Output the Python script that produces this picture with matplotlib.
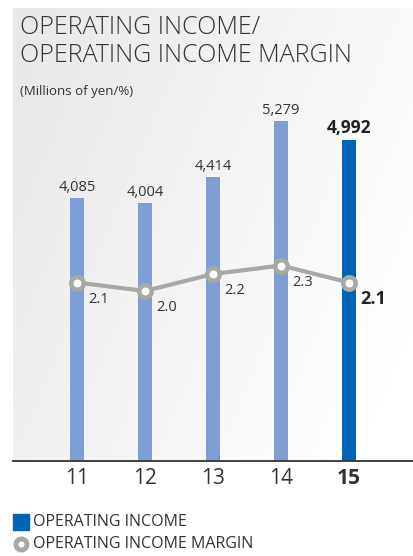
import matplotlib as mpl
mpl.use('Agg')
import matplotlib.pyplot as plt
import numpy as np

YEARS = ["11", "12", "13", "14", "15"]
INCOME = [4085, 4004, 4414, 5279, 4992]
MARGIN = [2.1, 2.0, 2.2, 2.3, 2.1]
INCOME_LABELS = ["4,085", "4,004", "4,414", "5,279", "4,992"]
MARGIN_LABELS = ["2.1", "2.0", "2.2", "2.3", "2.1"]

LIGHT_BLUE = '#7f9ed3'
DARK_BLUE = '#0064b4'
LINE_GRAY = '#a9a9a4'
TEXT = '#333333'

FONT = ['Open Sans', 'DejaVu Sans']
plt.rcParams['font.family'] = FONT

W, H = 414, 556
fig = plt.figure(figsize=(W / 100, H / 100), dpi=100)

def fbox(x0, y0, x1, y1):
    # pixel box (top-left origin) -> figure fraction rect
    return [x0 / W, 1 - y1 / H, (x1 - x0) / W, (y1 - y0) / H]

# soft grey-to-white panel behind the chart
bg = fig.add_axes(fbox(13, 8, 414, 461))
gx, gy = np.meshgrid(np.linspace(0, 1, 200), np.linspace(0, 1, 200))
grad = np.clip(0.75 * gx + 0.35 * gy, 0, 1)
bg.imshow(grad, cmap=mpl.colors.LinearSegmentedColormap.from_list('bg', ['#e8e8e8', '#ffffff']),
          aspect='auto', extent=[0, 1, 0, 1], vmin=0, vmax=1)
bg.axis('off')

ax = fig.add_axes(fbox(13, 100, 414, 461))
ax.patch.set_alpha(0)
x = np.arange(len(YEARS))
colors = [LIGHT_BLUE] * 4 + [DARK_BLUE]
bars = ax.bar(x, INCOME, width=14 / 68, color=colors, zorder=2)
ax.set_xlim(-64 / 68, (414 - 77) / 68)
ax.set_ylim(0, 361 / 0.0644)

for i, rect in enumerate(bars):
    last = i == len(bars) - 1
    ax.annotate(INCOME_LABELS[i], (rect.get_x() + rect.get_width() / 2, rect.get_height()),
                xytext=(0, 2), textcoords='offset points', ha='center', va='bottom',
                fontsize=12.5 if last else 10.5, fontweight='bold' if last else 'normal',
                color='#222222' if last else TEXT)

ax2 = ax.twinx()
ax2.set_ylim(0, 361 / 85)
ax2.plot(x, MARGIN, color=LINE_GRAY, lw=3, marker='o', ms=9, mew=3.2,
         mfc='white', mec=LINE_GRAY, zorder=3)
for i, v in enumerate(MARGIN):
    last = i == len(MARGIN) - 1
    ax2.annotate(MARGIN_LABELS[i], (x[i], v), xytext=(8, -12), textcoords='offset points',
                 ha='left', va='center', fontsize=13 if last else 10.5,
                 fontweight='bold' if last else 'normal',
                 color='#222222' if last else TEXT)

for a in (ax, ax2):
    for s in ('top', 'right', 'left'):
        a.spines[s].set_visible(False)
    a.set_yticks([])
ax.spines['bottom'].set_color('#333333')
ax.spines['bottom'].set_linewidth(1.3)
ax2.spines['bottom'].set_visible(False)

ax.set_xticks(x)
ax.set_xticklabels(YEARS, fontsize=15, color=TEXT)
ax.get_xticklabels()[-1].set_fontweight('bold')
ax.tick_params(axis='x', length=0, pad=5)

fig.text(20 / W, 1 - 28 / H, "OPERATING INCOME/", fontsize=18, fontweight='light',
         color=TEXT, va='center', ha='left')
fig.text(20 / W, 1 - 55 / H, "OPERATING INCOME MARGIN", fontsize=18, fontweight='light',
         color=TEXT, va='center', ha='left')
fig.text(20 / W, 1 - 91 / H, "(Millions of yen/%)", fontsize=9.5, color=TEXT,
         va='center', ha='left')

# legend drawn as plain marks and text
leg = fig.add_axes([0, 0, 1, 1])
leg.set_xlim(0, W)
leg.set_ylim(H, 0)
leg.axis('off')
leg.add_patch(plt.Rectangle((13, 514), 16, 16, color=DARK_BLUE))
leg.plot([21], [544], marker='o', ms=8, mew=3.5, mfc='white', mec=LINE_GRAY)
leg.text(33, 522, "OPERATING INCOME", fontsize=11.5, color=TEXT, va='center', ha='left')
leg.text(33, 544, "OPERATING INCOME MARGIN", fontsize=11.5, color=TEXT, va='center', ha='left')

fig.savefig('out.png', dpi=100)
